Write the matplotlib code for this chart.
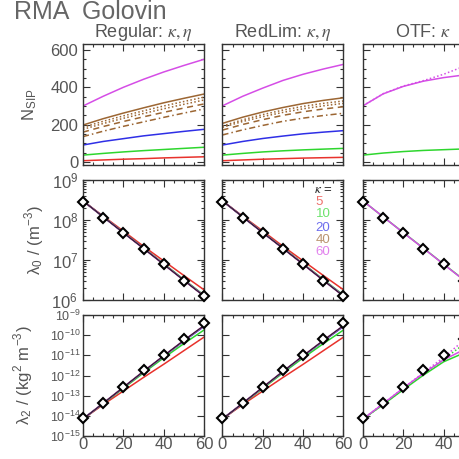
import numpy as np
import matplotlib
matplotlib.use("Agg")
import matplotlib.pyplot as plt
from matplotlib.ticker import MultipleLocator, LogLocator, NullLocator, NullFormatter

plt.rcParams['font.family'] = ['Liberation Sans', 'DejaVu Sans']
plt.rcParams['mathtext.fontset'] = 'stix'

# ---------------- data ----------------
t = [0, 10, 20, 30, 40, 50, 60]
kappa_labels = ['5', '10', '20', '40', '60']

# N_SIP  Regular
reg_red = [7, 11, 15, 18, 22, 25, 28]
reg_green = [37, 46, 54, 61, 67, 73, 79]
reg_blue = [91, 110, 125, 140, 152, 164, 175]
reg_brown = [198, 232, 262, 290, 317, 341, 364]
reg_brown_dot1 = [186, 218, 247, 274, 300, 324, 347]
reg_brown_dot2 = [175, 206, 234, 260, 285, 309, 332]
reg_brown_dash = [160, 190, 217, 242, 266, 289, 311]
reg_brown_dashdot = [136, 165, 191, 215, 239, 262, 284]
reg_magenta = [300, 352, 400, 443, 482, 517, 550]

# N_SIP  RedLim
rl_red = [7, 11, 15, 18, 21, 23, 25]
rl_green = [37, 46, 54, 60, 65, 69, 73]
rl_blue = [91, 110, 126, 139, 151, 160, 168]
rl_brown = [207, 240, 268, 292, 313, 330, 344]
rl_brown_dot1 = [193, 226, 254, 278, 298, 314, 327]
rl_brown_dot2 = [186, 217, 243, 266, 285, 301, 314]
rl_brown_dash = [171, 201, 227, 250, 269, 284, 296]
rl_brown_dashdot = [145, 172, 196, 218, 235, 249, 261]
rl_magenta = [301, 352, 396, 437, 470, 498, 523]

# N_SIP  OTF
otf_green = [37, 48, 56, 62, 66, 70, 73]
otf_magenta = [301, 365, 405, 433, 452, 466, 478]
otf_magenta_dot = [301, 366, 407, 436, 470, 512, 560]

# lambda0 (m^-3)
lam0_ref_pts = [2.8e8, 1.1e8, 4.7e7, 1.9e7, 7.9e6, 3.0e6, 1.26e6]
lam0_black = [3.0e8, 1.2e8, 4.8e7, 1.95e7, 7.8e6, 3.1e6, 1.25e6]
lam0_red = [3.0e8, 1.25e8, 5.3e7, 2.2e7, 9.5e6, 4.1e6, 1.8e6]
lam0_green = [3.0e8, 1.21e8, 4.9e7, 2.0e7, 8.1e6, 3.25e6, 1.32e6]
lam0_blue = [3.0e8, 1.2e8, 4.85e7, 1.97e7, 7.9e6, 3.15e6, 1.28e6]
lam0_brown = [3.0e8, 1.2e8, 4.82e7, 1.96e7, 7.85e6, 3.12e6, 1.26e6]
lam0_magenta = [3.0e8, 1.2e8, 4.8e7, 1.95e7, 7.8e6, 3.1e6, 1.25e6]
lam0_otf_green = [3.0e8, 1.2e8, 4.85e7, 1.97e7, 7.9e6, 3.2e6, 1.3e6]
lam0_otf_magenta = [3.0e8, 1.2e8, 4.8e7, 1.95e7, 7.8e6, 3.15e6, 1.28e6]

# lambda2 (kg^2 m^-3)
lam2_ref_pts = [7.5e-15, 4.5e-14, 2.8e-13, 1.8e-12, 1.0e-11, 6.3e-11, 4.0e-10]
lam2_black = [7e-15, 4.2e-14, 2.6e-13, 1.6e-12, 9.5e-12, 5.5e-11, 3.0e-10]
lam2_red = [7e-15, 3.6e-14, 1.7e-13, 8.0e-13, 3.6e-12, 1.7e-11, 8.0e-11]
lam2_green = [7e-15, 4.0e-14, 2.3e-13, 1.35e-12, 7.5e-12, 3.8e-11, 1.8e-10]
lam2_blue = [7e-15, 4.15e-14, 2.55e-13, 1.55e-12, 9.0e-12, 5.1e-11, 2.7e-10]
lam2_brown = [7e-15, 4.2e-14, 2.6e-13, 1.6e-12, 9.3e-12, 5.4e-11, 2.9e-10]
lam2_magenta = [7e-15, 4.2e-14, 2.6e-13, 1.6e-12, 9.5e-12, 5.5e-11, 3.0e-10]
lam2_otf_green = [7e-15, 3.6e-14, 2.0e-13, 1.05e-12, 4.8e-12, 1.3e-11, 5.0e-11]
lam2_otf_magenta = [7e-15, 4.0e-14, 2.4e-13, 1.3e-12, 6.0e-12, 1.9e-11, 7.0e-11]
lam2_otf_green_dot = [7e-15, 3.7e-14, 2.1e-13, 1.2e-12, 6.5e-12, 3.5e-11, 1.8e-10]
lam2_otf_magenta_dot = [7e-15, 4.0e-14, 2.4e-13, 1.4e-12, 8.0e-12, 5.5e-11, 3.0e-10]

# ---------------- style ----------------
RED = '#e8322c'
GREEN = '#2ed62e'
BLUE = '#2f2fe6'
BROWN = '#9c6633'
MAGENTA = '#d54de6'
TXT = '#555555'
AX = '#333333'
lw = 1.1

W, H = 460, 459
fig = plt.figure(figsize=(W / 100, H / 100), dpi=100)

cols_x = [83, 222.5, 363]
col_w = 121
rows_y = [(44, 165), (180, 300), (315, 436)]


def make_ax(ci, ri):
    x0 = cols_x[ci]
    top, bot = rows_y[ri]
    return fig.add_axes([x0 / W, 1 - bot / H, col_w / W, (bot - top) / H])


def style(ax):
    for s in ax.spines.values():
        s.set_color(AX)
        s.set_linewidth(1.0)
    ax.tick_params(which='both', direction='in', top=True, right=True,
                   colors=AX, labelcolor=TXT, labelsize=12, width=0.8)
    ax.tick_params(which='major', length=5)
    ax.tick_params(which='minor', length=2.5)
    ax.set_xlim(0, 60)
    ax.xaxis.set_major_locator(MultipleLocator(20))
    ax.xaxis.set_minor_locator(MultipleLocator(5))


nsip = [
    (reg_red, reg_green, reg_blue, reg_brown, reg_brown_dot1, reg_brown_dot2,
     reg_brown_dash, reg_brown_dashdot, reg_magenta),
    (rl_red, rl_green, rl_blue, rl_brown, rl_brown_dot1, rl_brown_dot2,
     rl_brown_dash, rl_brown_dashdot, rl_magenta),
]

# Row 1
for ci in range(3):
    ax = make_ax(ci, 0)
    style(ax)
    if ci < 2:
        r, g, b, br, d1, d2, da, dd, m = nsip[ci]
        ax.plot(t, r, color=RED, lw=lw)
        ax.plot(t, g, color=GREEN, lw=lw)
        ax.plot(t, b, color=BLUE, lw=lw)
        ax.plot(t, dd, color=BROWN, lw=lw, ls=(0, (4, 2, 1, 2)))
        ax.plot(t, da, color=BROWN, lw=lw, ls=(0, (4, 3)))
        ax.plot(t, d2, color=BROWN, lw=lw, ls=(0, (1, 1.5)))
        ax.plot(t, d1, color=BROWN, lw=lw, ls=(0, (1, 1.5)))
        ax.plot(t, br, color=BROWN, lw=lw)
        ax.plot(t, m, color=MAGENTA, lw=lw)
    else:
        ax.plot(t, otf_green, color=GREEN, lw=lw)
        ax.plot(t, otf_magenta_dot, color=MAGENTA, lw=lw, ls=(0, (1, 1.5)))
        ax.plot(t, otf_magenta, color=MAGENTA, lw=lw)
    ax.set_ylim(-16, 632)
    ax.yaxis.set_major_locator(MultipleLocator(200))
    ax.yaxis.set_minor_locator(MultipleLocator(50))
    ax.xaxis.set_major_formatter(NullFormatter())
    if ci > 0:
        ax.yaxis.set_major_formatter(NullFormatter())

# Row 2
for ci in range(3):
    ax = make_ax(ci, 1)
    style(ax)
    ax.set_yscale('log')
    if ci < 2:
        ax.plot(t, lam0_red, color=RED, lw=lw)
        ax.plot(t, lam0_green, color=GREEN, lw=lw)
        ax.plot(t, lam0_blue, color=BLUE, lw=lw)
        ax.plot(t, lam0_brown, color=BROWN, lw=lw)
        ax.plot(t, lam0_magenta, color=MAGENTA, lw=lw)
        ax.plot(t, lam0_black, color='#222222', lw=0.8)
    else:
        ax.plot(t, lam0_otf_green, color=GREEN, lw=lw)
        ax.plot(t, lam0_otf_magenta, color=MAGENTA, lw=lw)
    ax.plot(t, lam0_ref_pts, ls='none', marker='D', ms=5, mfc='white',
            mec='black', mew=1.5, clip_on=False, zorder=5)
    ax.set_ylim(1e6, 1e9)
    ax.yaxis.set_major_locator(LogLocator(base=10, numticks=10))
    ax.yaxis.set_minor_locator(LogLocator(base=10, subs=np.arange(2, 10), numticks=20))
    ax.yaxis.set_minor_formatter(NullFormatter())
    ax.xaxis.set_major_formatter(NullFormatter())
    if ci > 0:
        ax.yaxis.set_major_formatter(NullFormatter())
    if ci == 1:
        ax.text(0.76, 0.915, r'$\kappa$ =', transform=ax.transAxes, ha='left',
                va='center', fontsize=9.5, color='#222222')
        ys = [0.815, 0.718, 0.602, 0.502, 0.404]
        for yk, lab, c in zip(ys, kappa_labels, [RED, GREEN, BLUE, BROWN, MAGENTA]):
            ax.text(0.77, yk, lab, transform=ax.transAxes, ha='left',
                    va='center', fontsize=9.5, color=c, alpha=0.7)

# Row 3
for ci in range(3):
    ax = make_ax(ci, 2)
    style(ax)
    ax.set_yscale('log')
    if ci < 2:
        ax.plot(t, lam2_red, color=RED, lw=lw)
        ax.plot(t, lam2_green, color=GREEN, lw=lw)
        ax.plot(t, lam2_blue, color=BLUE, lw=lw)
        ax.plot(t, lam2_brown, color=BROWN, lw=lw)
        ax.plot(t, lam2_magenta, color=MAGENTA, lw=lw)
        ax.plot(t, lam2_black, color='#222222', lw=0.8)
    else:
        ax.plot(t, lam2_otf_green_dot, color=GREEN, lw=lw, ls=(0, (1, 1.5)))
        ax.plot(t, lam2_otf_magenta_dot, color=MAGENTA, lw=lw, ls=(0, (1, 1.5)))
        ax.plot(t, lam2_otf_green, color=GREEN, lw=lw)
        ax.plot(t, lam2_otf_magenta, color=MAGENTA, lw=lw)
    ax.plot(t, lam2_ref_pts, ls='none', marker='D', ms=5, mfc='white',
            mec='black', mew=1.5, clip_on=False, zorder=5)
    ax.set_ylim(1e-15, 1e-9)
    ax.yaxis.set_major_locator(LogLocator(base=10, numticks=10))
    ax.yaxis.set_minor_locator(NullLocator())
    ax.tick_params(axis='y', labelsize=9, pad=2)
    ax.tick_params(axis='x', labelsize=12, pad=1)
    if ci > 0:
        ax.yaxis.set_major_formatter(NullFormatter())

# Titles and labels
fig.text(14 / W, 1 - 19 / H, 'RMA  Golovin', fontsize=18, color='#666666',
         ha='left', va='baseline')
col_titles = [r'Regular: $\kappa,\eta$', r'RedLim: $\kappa,\eta$', r'OTF: $\kappa$']
for ci, tt in enumerate(col_titles):
    fig.text((cols_x[ci] + col_w / 2) / W, 1 - 37 / H, tt, fontsize=13,
             color=TXT, ha='center', va='baseline')

fig.text(30 / W, 1 - 105 / H, r'N$_{\mathdefault{SIP}}$', fontsize=12, color=TXT,
         rotation=90, ha='center', va='center')
fig.text(35 / W, 1 - 240 / H, r'λ$_{\mathdefault{0}}$ / (m$^{\mathdefault{-3}}$)', fontsize=12,
         color=TXT, rotation=90, ha='center', va='center')
fig.text(24 / W, 1 - 375 / H, r'λ$_{\mathdefault{2}}$ / (kg$^{\mathdefault{2}}$ m$^{\mathdefault{-3}}$)',
         fontsize=12, color=TXT, rotation=90, ha='center', va='center')

fig.savefig('out.png', dpi=100)
